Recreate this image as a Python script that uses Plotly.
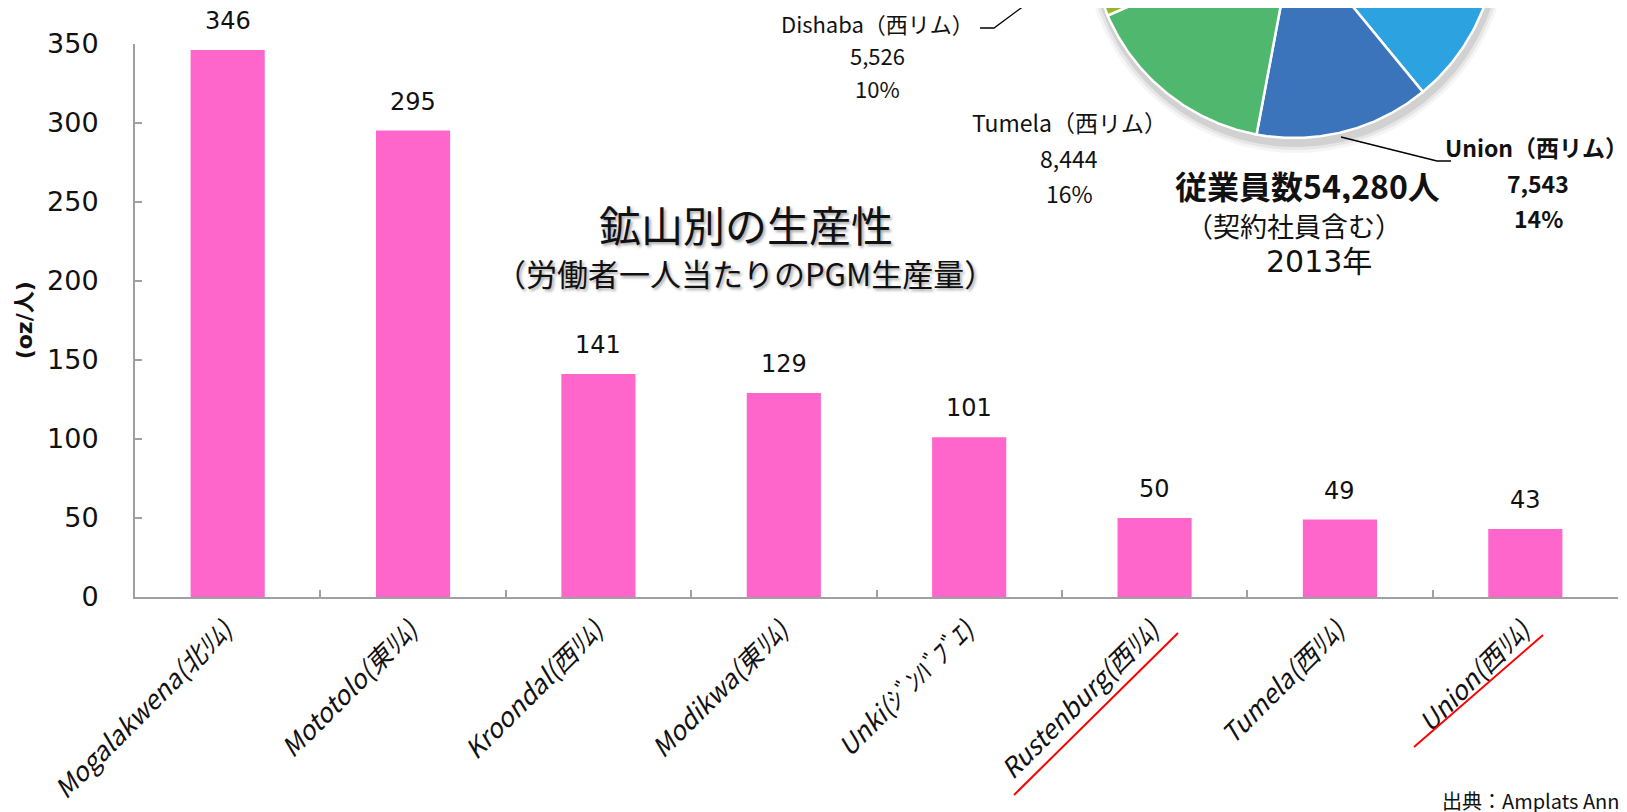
import numpy as np
import plotly.graph_objects as go

W, H = 1627, 812          # browser window
OX, OY = 8, 8             # page body margin
FW, FH = W - OX, H - OY   # figure size

# ---------------- data ----------------
mines = ["Mogalakwena(北ﾘﾑ)", "Mototolo(東ﾘﾑ)", "Kroondal(西ﾘﾑ)", "Modikwa(東ﾘﾑ)",
         "Unki(ｼﾞﾝﾊﾞﾌﾞｴ)", "Rustenburg(西ﾘﾑ)", "Tumela(西ﾘﾑ)", "Union(西ﾘﾑ)"]
productivity = [346, 295, 141, 129, 101, 50, 49, 43]
y_ticks = [0, 50, 100, 150, 200, 250, 300, 350]

pie_labels = ["Rustenburg（西リム）", "Union（西リム）", "Tumela（西リム）", "Dishaba（西リム）", "その他"]
pie_values = [21200, 7543, 8444, 5526, 11567]
total_employees = 54280
survey_year = "2013年"

# ---------------- styles ----------------
BAR_COLOR = "#FF66CC"
AXIS_COLOR = "#A0A0A0"
PIE_COLORS = ["#2CA2E0", "#3C74BC", "#4FB86E", "#93B822", "#F29B38"]
FONT_NUM = "DejaVu Sans"
FONT_JP = "Noto Sans CJK JP"
TXT = "#111111"

# pie geometry (overlay axis in window-pixel units)
PIE_CX, PIE_CY, PIE_R = 1294, -65, 203

fig = go.Figure()

# ---- bar chart ----
fig.add_trace(go.Bar(
    x=mines, y=productivity, marker=dict(color=BAR_COLOR, line=dict(width=0)),
    xaxis="x", yaxis="y", showlegend=False, hoverinfo="x+y",
))

annotations = []
for m, v in zip(mines, productivity):
    annotations.append(dict(x=m, y=v, xref="x", yref="y", text=str(v), showarrow=False,
                            yanchor="middle", yshift=29, height=26, valign="middle",
                            font=dict(family=FONT_NUM, size=24, color=TXT)))

# ---- pie chart (drawn on overlay axis, slices from the data) ----
vals = np.array(pie_values, dtype=float)
fr = vals / vals.sum()
edges = np.concatenate([[0], np.cumsum(fr)]) * 2 * np.pi

# soft shadow
for dr, op in [(9, 0.04), (6, 0.06), (3, 0.09)]:
    th = np.linspace(0, 2 * np.pi, 240)
    fig.add_trace(go.Scatter(
        x=PIE_CX + 2 + (PIE_R + dr) * np.sin(th), y=PIE_CY + 6 - (PIE_R + dr) * np.cos(th),
        mode="lines", fill="toself", fillcolor=f"rgba(0,0,0,{op})", line=dict(width=0),
        xaxis="x2", yaxis="y2", showlegend=False, hoverinfo="skip"))

for i, lab in enumerate(pie_labels):
    th = np.linspace(edges[i], edges[i + 1], 120)
    xs = np.concatenate([[PIE_CX], PIE_CX + PIE_R * np.sin(th), [PIE_CX]])
    ys = np.concatenate([[PIE_CY], PIE_CY - PIE_R * np.cos(th), [PIE_CY]])
    fig.add_trace(go.Scatter(
        x=xs, y=ys, mode="lines", fill="toself", fillcolor=PIE_COLORS[i],
        line=dict(color="white", width=2.5), xaxis="x2", yaxis="y2",
        showlegend=False, name=lab, hoverinfo="name"))


def pie_text(label, x, y, size, bold=False, height=None, family=FONT_JP):
    d = dict(x=x, y=y, xref="x2", yref="y2", text=label, showarrow=False,
             xanchor="center", yanchor="middle",
             font=dict(family=family, size=size, color=TXT,
                       weight="bold" if bold else "normal"))
    if height:
        d["height"] = height
        d["valign"] = "middle"
    annotations.append(d)


def pct(v):
    return f"{round(v / total_employees * 100)}%"


# Dishaba
pie_text(pie_labels[3], 877, 23, 22, height=26)
pie_text(f"{pie_values[3]:,}", 877, 55, 22)
pie_text(pct(pie_values[3]), 877, 88, 22)
# Tumela
pie_text(pie_labels[2], 1069, 122, 23)
pie_text(f"{pie_values[2]:,}", 1069, 158, 23)
pie_text(pct(pie_values[2]), 1069, 193, 23)
# Union
pie_text(pie_labels[1], 1536, 147, 23, bold=True)
pie_text(f"{pie_values[1]:,}", 1538, 183, 23, bold=True)
pie_text(pct(pie_values[1]), 1538, 218, 23, bold=True)
# total block
pie_text(f"従業員数{total_employees:,}人", 1307, 185, 32, bold=True, height=36)
pie_text("（契約社員含む）", 1294, 225, 27, height=30)
pie_text(survey_year, 1319, 261, 30, height=34, family="DejaVu Sans, Noto Sans CJK JP")

# leader lines
fig.add_trace(go.Scatter(x=[980, 994, 1032], y=[28, 28, 0], mode="lines",
                         line=dict(color="black", width=1.3), xaxis="x2", yaxis="y2",
                         showlegend=False, hoverinfo="skip"))
fig.add_trace(go.Scatter(x=[1341, 1437, 1451], y=[137, 161, 161], mode="lines",
                         line=dict(color="black", width=1.3), xaxis="x2", yaxis="y2",
                         showlegend=False, hoverinfo="skip"))

# red underline marks
shapes = [
    dict(type="line", xref="x2", yref="y2", x0=1014, y0=795, x1=1178, y1=633,
         line=dict(color="red", width=2)),
    dict(type="line", xref="x2", yref="y2", x0=1414, y0=747, x1=1543, y1=635,
         line=dict(color="red", width=2)),
]

# titles
SHADOW = "2px 2px 3px rgba(0,0,0,0.35)"
annotations.append(dict(x=746, y=223, xref="x2", yref="y2", text="鉱山別の生産性", showarrow=False,
                        font=dict(family=FONT_JP, size=42, color=TXT, shadow=SHADOW)))
annotations.append(dict(x=745, y=272, xref="x2", yref="y2", text="（労働者一人当たりのPGM生産量）",
                        showarrow=False,
                        font=dict(family=FONT_JP, size=31, color=TXT, shadow=SHADOW)))
annotations.append(dict(x=1440, y=800, xref="x2", yref="y2", text="出典：Amplats Annual Report 2013",
                        showarrow=False, xanchor="left", yanchor="middle",
                        font=dict(family=FONT_JP, size=20, color=TXT)))

fig.update_layout(
    width=FW, height=FH,
    margin=dict(l=0, r=0, t=0, b=0),
    paper_bgcolor="white", plot_bgcolor="rgba(0,0,0,0)",
    bargap=0.6,
    xaxis=dict(domain=[(135 - OX) / FW, (1618 - OX) / FW], anchor="y", showgrid=False,
               zeroline=False, showline=True, linecolor=AXIS_COLOR, linewidth=2,
               ticks="inside", ticklen=7, tickcolor=AXIS_COLOR, tickwidth=1.5,
               tickson="boundaries", tickangle=-45, ticklabelstandoff=6, ticklabelshift=-3,
               tickfont=dict(family=FONT_JP, size=26, color=TXT, style="italic"),
               automargin=False),
    yaxis=dict(domain=[(H - 597) / FH, (H - 43.6) / FH], anchor="x", range=[0, 350],
               tickvals=y_ticks, showgrid=False, zeroline=False,
               showline=True, linecolor=AXIS_COLOR, linewidth=2,
               ticks="inside", ticklen=7, tickcolor=AXIS_COLOR, tickwidth=1.5,
               ticklabelstandoff=29,
               tickfont=dict(family=FONT_NUM, size=27, color=TXT),
               title=dict(text="(oz/人)", standoff=8,
                          font=dict(family="DejaVu Sans, Noto Sans CJK JP", size=22,
                                    color=TXT, weight="bold")),
               automargin=False),
    xaxis2=dict(domain=[0, 1], anchor="y2", range=[OX, OX + FW], visible=False, fixedrange=True),
    yaxis2=dict(domain=[0, 1], anchor="x2", range=[OY + FH, OY], visible=False, fixedrange=True),
    annotations=annotations,
    shapes=shapes,
)

fig.write_html("out.html")
